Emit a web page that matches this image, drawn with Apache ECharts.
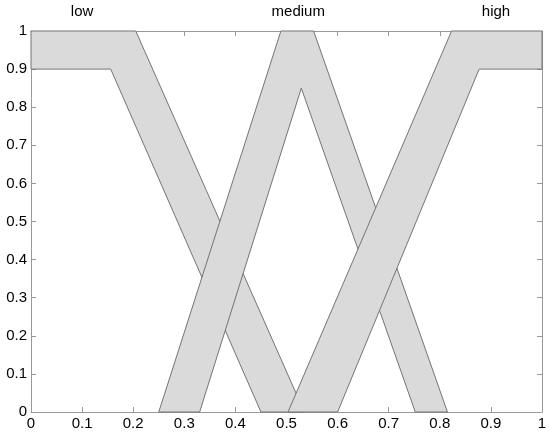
<!DOCTYPE html>
<html>
<head>
<meta charset="utf-8">
<script src="https://cdn.jsdelivr.net/npm/echarts@6/dist/echarts.min.js"></script>
<style>html,body{margin:0;padding:0;background:#fff}#c{width:550px;height:438px}</style>
</head>
<body>
<div id="c"></div>
<script>
// Membership functions (x, membership)
var lowUpper = [[0, 1], [0.205, 1], [0.535, 0]];
var lowLower = [[0, 0.9], [0.156, 0.9], [0.45, 0]];
var mediumUpper = [[0.25, 0], [0.489, 1], [0.553, 1], [0.815, 0]];
var mediumLower = [[0.33, 0], [0.529, 0.85], [0.752, 0]];
var highUpper = [[0.503, 0], [0.823, 1], [1, 1]];
var highLower = [[0.6, 0], [0.877, 0.9], [1, 0.9]];

var setNames = ['low', 'medium', 'high'];
var setLabelX = [0.1, 0.523, 0.91];

var bands = [
  {upper: lowUpper, lower: lowLower},
  {upper: mediumUpper, lower: mediumLower},
  {upper: highUpper, lower: highLower}
];

var FONT = '"Liberation Sans", Arial, Helvetica, sans-serif';
var chart = echarts.init(document.getElementById('c'), null, {renderer: 'canvas'});

function fmt(v) { return String(Math.round(v * 10) / 10); }

function axisCommon(extra) {
  return Object.assign({
    type: 'value', min: 0, max: 1, interval: 0.1,
    splitLine: {show: false},
    axisLine: {show: true, onZero: false, lineStyle: {color: '#999', width: 1}},
    axisTick: {show: true, inside: true, length: 5, lineStyle: {color: '#999'}},
    axisLabel: {show: false}
  }, extra);
}

var option = {
  animation: false,
  backgroundColor: '#fff',
  grid: {left: 31, right: 8, top: 31, bottom: 26, containLabel: false},
  xAxis: [
    axisCommon({position: 'bottom', axisLabel: {show: true, color: '#000', fontSize: 15, fontFamily: FONT, margin: 4, formatter: fmt}}),
    axisCommon({position: 'top'})
  ],
  yAxis: [
    axisCommon({position: 'left', axisLabel: {show: true, color: '#000', fontSize: 15, fontFamily: FONT, margin: 4, formatter: fmt}}),
    axisCommon({position: 'right'})
  ],
  series: [
    {
      type: 'custom',
      xAxisIndex: 0, yAxisIndex: 0,
      data: bands.map(function (b, i) { return [i]; }),
      renderItem: function (params, api) {
        var b = bands[api.value(0)];
        var pts = b.upper.concat(b.lower.slice().reverse()).map(function (p) { return api.coord(p); });
        return {
          type: 'polygon',
          shape: {points: pts},
          style: {fill: '#dadada', stroke: '#747474', lineWidth: 1}
        };
      },
      z: 2
    },
    {
      type: 'custom',
      xAxisIndex: 0, yAxisIndex: 0,
      clip: false,
      data: setNames.map(function (n, i) { return [setLabelX[i], 1]; }),
      renderItem: function (params, api) {
        var p = api.coord([api.value(0), api.value(1)]);
        return {
          type: 'text',
          x: p[0], y: p[1] - 19,
          style: {text: setNames[params.dataIndex], fill: '#000', fontSize: 15, fontFamily: FONT,
            align: 'center', verticalAlign: 'middle'}
        };
      },
      z: 3
    }
  ]
};
chart.setOption(option);
</script>
</body>
</html>
